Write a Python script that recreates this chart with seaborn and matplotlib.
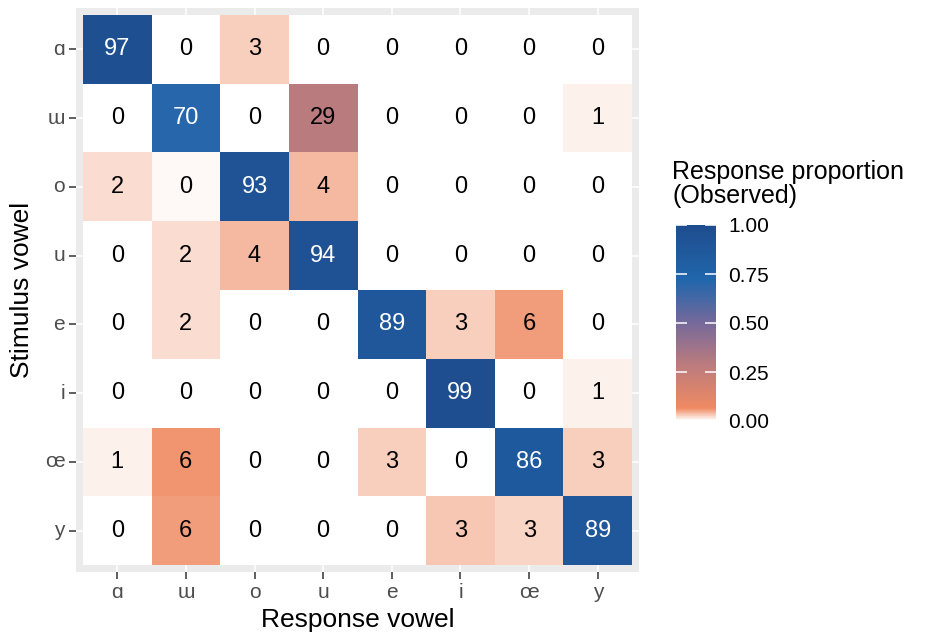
import numpy as np
import pandas as pd
import matplotlib
matplotlib.use("Agg")
import matplotlib.pyplot as plt
from matplotlib.colors import LinearSegmentedColormap
import seaborn as sns

# Vowel categories (stimulus rows, response columns)
stimulus_vowels = ["ɑ", "ɯ", "o", "u", "e", "i", "œ", "y"]
response_vowels = ["ɑ", "ɯ", "o", "u", "e", "i", "œ", "y"]

# Observed response proportions, one list per stimulus vowel
row_a  = [0.970, 0.000, 0.030, 0.000, 0.002, 0.000, 0.000, 0.000]
row_uu = [0.000, 0.700, 0.001, 0.290, 0.000, 0.000, 0.000, 0.010]
row_o  = [0.020, 0.004, 0.930, 0.040, 0.000, 0.000, 0.000, 0.000]
row_u  = [0.000, 0.020, 0.040, 0.940, 0.000, 0.000, 0.000, 0.000]
row_e  = [0.000, 0.020, 0.000, 0.000, 0.890, 0.030, 0.056, 0.003]
row_i  = [0.000, 0.001, 0.000, 0.000, 0.000, 0.990, 0.001, 0.010]
row_oe = [0.010, 0.062, 0.001, 0.003, 0.030, 0.000, 0.860, 0.030]
row_y  = [0.000, 0.056, 0.000, 0.001, 0.001, 0.032, 0.027, 0.890]

props = pd.DataFrame([row_a, row_uu, row_o, row_u, row_e, row_i, row_oe, row_y],
                     index=stimulus_vowels, columns=response_vowels)
labels = (props * 100).round().astype(int).astype(str)

cmap = LinearSegmentedColormap.from_list(
    "resp",
    [(0.0, "#FFFFFF"), (0.065, "#EF8A62"), (0.29, "#BA7B7E"),
     (0.50, "#76699A"), (0.72, "#2166AC"), (1.0, "#1E4D8E")])

sns.set_theme(style="white")
plt.rcParams["font.family"] = ["Liberation Sans", "DejaVu Sans"]

fig = plt.figure(figsize=(9.3, 6.34), dpi=100)
ax = fig.add_axes([76 / 930, 1 - 572 / 634, 563 / 930, 564 / 634])
cax = fig.add_axes([676 / 930, 1 - 421 / 634, 40 / 930, 196 / 634])

sns.heatmap(props, annot=labels, fmt="", cmap=cmap, vmin=0, vmax=1,
            ax=ax, cbar_ax=cax, linewidths=0,
            annot_kws={"fontsize": 17})

# text colour: white on the dark blue cells
vals = props.values.ravel()
for txt, v in zip(ax.texts, vals):
    txt.set_color("white" if v > 0.5 else "black")

ax.set_facecolor("#EBEBEB")
ax.set_xlim(-0.1, 8.1)
ax.set_ylim(8.1, -0.1)
ax.set_axisbelow(True)
ax.grid(True, color="white", linewidth=1.1)
for s in ax.spines.values():
    s.set_visible(False)

ax.tick_params(axis="both", which="major", length=5, width=1.1,
               color="#333333", labelcolor="#4D4D4D", labelsize=15,
               bottom=True, left=True, pad=3)
ax.set_xticklabels(response_vowels, rotation=0)
ax.set_yticklabels(stimulus_vowels, rotation=0)
ax.set_xlabel("Response vowel", fontsize=19, color="black", labelpad=4)
ax.set_ylabel("Stimulus vowel", fontsize=19, color="black", labelpad=8)

# colour bar styling
cbar = ax.collections[0].colorbar
cbar.outline.set_visible(False)
cbar.set_ticks([0, 0.25, 0.5, 0.75, 1.0])
cbar.set_ticklabels(["0.00", "0.25", "0.50", "0.75", "1.00"])
cax.set_axisbelow(False)
cax.tick_params(axis="y", direction="in", length=8, width=1.1, colors="white",
                left=True, right=True, labelleft=False, labelright=True,
                labelsize=15, labelcolor="black", pad=9)
for s in cax.spines.values():
    s.set_visible(False)

fig.text(672 / 930, 1 - 160 / 634, "Response proportion\n(Observed)",
         fontsize=18, ha="left", va="top", linespacing=1.0, color="black")

fig.savefig("out.png", dpi=100)
